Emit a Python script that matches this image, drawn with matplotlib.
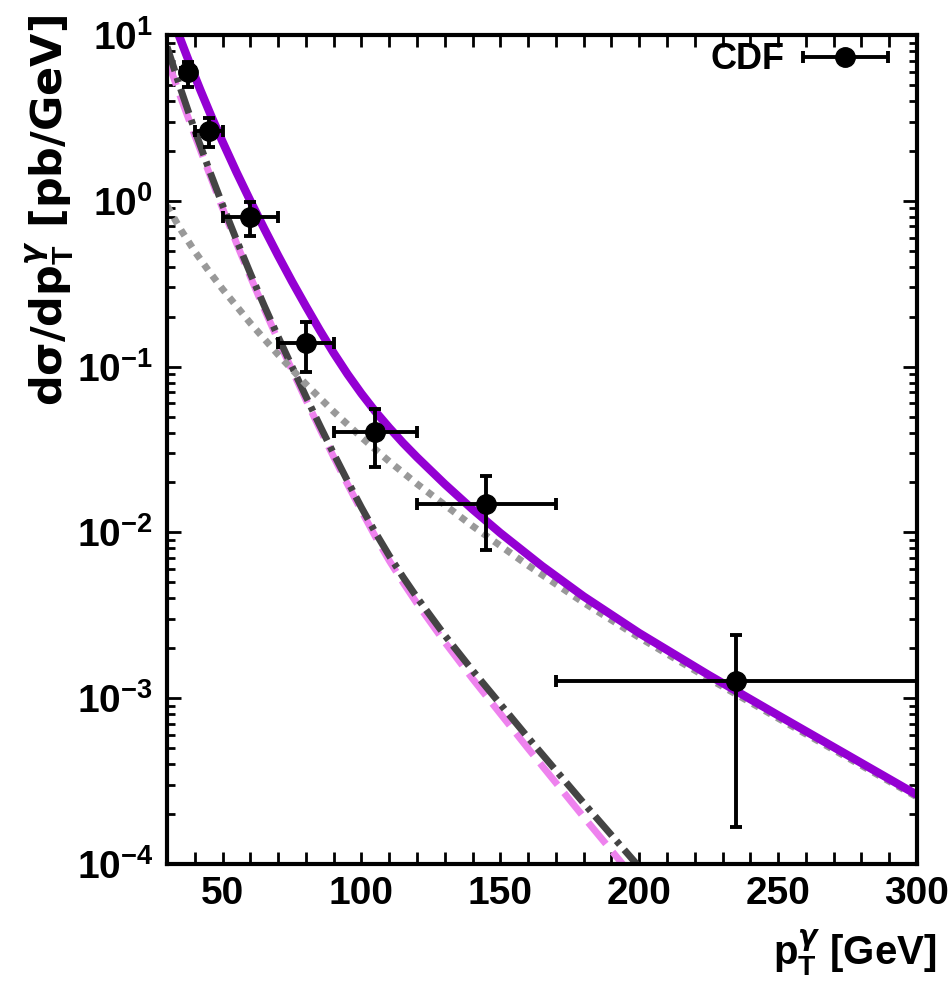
import numpy as np
import matplotlib as mpl
mpl.use('Agg')
import matplotlib.pyplot as plt
from matplotlib import ticker, font_manager
from matplotlib.container import ErrorbarContainer
from matplotlib.legend_handler import HandlerErrorbar

# fonts: narrow bold for tick labels if installed
names = set(f.name for f in font_manager.fontManager.ttflist)
tick_font = 'Liberation Sans Narrow' if 'Liberation Sans Narrow' in names else 'Liberation Sans'

mpl.rcParams['font.family'] = ['Liberation Sans', 'DejaVu Sans']
mpl.rcParams['font.weight'] = 'bold'
mpl.rcParams['mathtext.fontset'] = 'custom'
mpl.rcParams['mathtext.rm'] = tick_font + ':bold'
mpl.rcParams['mathtext.bf'] = tick_font + ':bold'
mpl.rcParams['mathtext.it'] = 'DejaVu Sans:italic'
mpl.rcParams['axes.linewidth'] = 3

# CDF data: bin centre, bin edges, cross section and its error band
pt = [37.5, 45, 60, 80, 105, 145, 235]
pt_lo = [35, 40, 50, 70, 90, 120, 170]
pt_hi = [40, 50, 70, 90, 120, 170, 300]
xsec = [6.0, 2.64, 0.80, 0.139, 0.0404, 0.0148, 0.00127]
xsec_lo = [4.85, 2.11, 0.61, 0.0927, 0.0248, 0.0078, 0.000167]
xsec_hi = [6.87, 3.15, 0.98, 0.186, 0.0555, 0.0219, 0.0024]

# theory curves
tot_x = [34, 38, 42, 46, 50, 55, 60, 65, 70, 75, 80, 85, 90, 95, 100, 105, 110, 115, 120,
         130, 140, 150, 165, 180, 200, 225, 250, 275, 300]
tot_y = [10.23, 6.85, 4.66, 3.22, 2.27, 1.49, 0.999, 0.679, 0.467, 0.326, 0.2313, 0.1657,
         0.1208, 0.09, 0.0687, 0.0536, 0.0428, 0.0346, 0.0284, 0.01956, 0.01378, 0.00992,
         0.00627, 0.00411, 0.00247, 0.00138, 0.000789, 0.000454, 0.000261]

dot_x = [30, 35, 40, 45, 50, 60, 70, 80, 90, 100, 110, 120, 140, 160, 180, 200, 225, 250, 275, 300]
dot_y = [0.933, 0.668, 0.495, 0.378, 0.2934, 0.183, 0.1181, 0.0784, 0.05353, 0.03745, 0.0268,
         0.01962, 0.01093, 0.00632, 0.00377, 0.002325, 0.001315, 0.000757, 0.000438, 0.0002535]

dd_x = [30, 35, 40, 45, 50, 55, 60, 65, 70, 75, 80, 85, 90, 95, 100, 105, 110, 115, 120,
        130, 140, 160, 180, 200.3]
dd_y = [8.51, 4.68, 2.66, 1.567, 0.944, 0.582, 0.365, 0.233, 0.1514, 0.1, 0.0661, 0.0442,
        0.02985, 0.02042, 0.01413, 0.01, 0.00724, 0.00537, 0.00405, 0.002394, 0.00147,
        0.000578, 0.000233, 0.0000946]

dash_x = [30, 35, 40, 45, 50, 55, 60, 65, 70, 75, 80, 85, 90, 95, 100, 105, 110, 115, 120,
          130, 140, 160, 180, 194]
dash_y = [7.16, 4.17, 2.48, 1.496, 0.902, 0.556, 0.3487, 0.2226, 0.1445, 0.0955, 0.0631,
          0.0422, 0.0285, 0.0195, 0.01349, 0.00944, 0.00676, 0.00498, 0.00373, 0.002176,
          0.00131, 0.000497, 0.000192, 0.0001]

fig = plt.figure(figsize=(9.53, 9.82), dpi=100)
fig.patch.set_facecolor('white')
ax = fig.add_axes([167/953, 118/982, 750/953, 829/982])

ax.plot(dash_x, dash_y, color='#ee82ee', lw=5, dashes=(4, 1.5), solid_capstyle='butt')
ax.plot(dd_x, dd_y, color='#444444', lw=5, dashes=(3.7, 1, 0.7, 1))
ax.plot(dot_x, dot_y, color='#999999', lw=5, linestyle=(0, (1, 1)), dash_capstyle='butt')
ax.plot(tot_x, tot_y, color='#9400d3', lw=6)

xerr = [np.subtract(pt, pt_lo), np.subtract(pt_hi, pt)]
yerr = [np.subtract(xsec, xsec_lo), np.subtract(xsec_hi, xsec)]
eb = ax.errorbar(pt, xsec, xerr=xerr, yerr=yerr, fmt='o', color='black', ms=14,
                 elinewidth=2.8, capsize=4, capthick=2.8, label='CDF', zorder=5)

ax.set_yscale('log')
ax.set_xlim(30, 300)
ax.set_ylim(1e-4, 10)

ax.xaxis.set_major_locator(ticker.MultipleLocator(50))
ax.xaxis.set_minor_locator(ticker.MultipleLocator(10))
ax.yaxis.set_major_locator(ticker.FixedLocator([1e-4, 1e-3, 1e-2, 1e-1, 1, 10]))
ax.yaxis.set_minor_locator(ticker.LogLocator(base=10, subs=np.arange(2, 10)))
ax.yaxis.set_minor_formatter(ticker.NullFormatter())
ax.yaxis.set_major_formatter(ticker.FuncFormatter(
    lambda v, p: r'$\mathbf{10^{%d}}$' % int(round(np.log10(v)))))

ax.tick_params(which='both', direction='in', top=True, right=True, width=2)
ax.tick_params(axis='x', which='both', length=8.5, pad=9)
ax.tick_params(axis='y', which='major', length=10, pad=10)
ax.tick_params(axis='y', which='minor', length=5.5)
for lab in ax.get_xticklabels() + ax.get_yticklabels():
    lab.set_fontfamily(tick_font)
    lab.set_fontweight('bold')
    lab.set_fontsize(28)

ax.set_ylabel(r'dσ/dp$_{\mathbf{T}}^{\gamma}$ [pb/GeV]', fontsize=31,
              family=['DejaVu Sans'], fontweight='bold')
ax.yaxis.set_label_coords(-0.156, 0.788)
ax.yaxis.label.set_verticalalignment('center')

ax.set_xlabel(r'p$_{\mathbf{T}}^{\gamma}$ [GeV]', fontsize=29, fontweight='bold')
ax.xaxis.set_label_coords(1.026, -0.122)
ax.xaxis.label.set_horizontalalignment('right')
ax.xaxis.label.set_verticalalignment('baseline')

leg = ax.legend(loc='upper right', bbox_to_anchor=(1 - 22/750, 1), frameon=False,
                markerfirst=False, fontsize=26, handlelength=2.36, handletextpad=0.5,
                borderpad=0.2, borderaxespad=0,
                handler_map={ErrorbarContainer: HandlerErrorbar(xerr_size=1.18, yerr_size=0)})

fig.savefig('out.png', dpi=100)
print('* saved')
